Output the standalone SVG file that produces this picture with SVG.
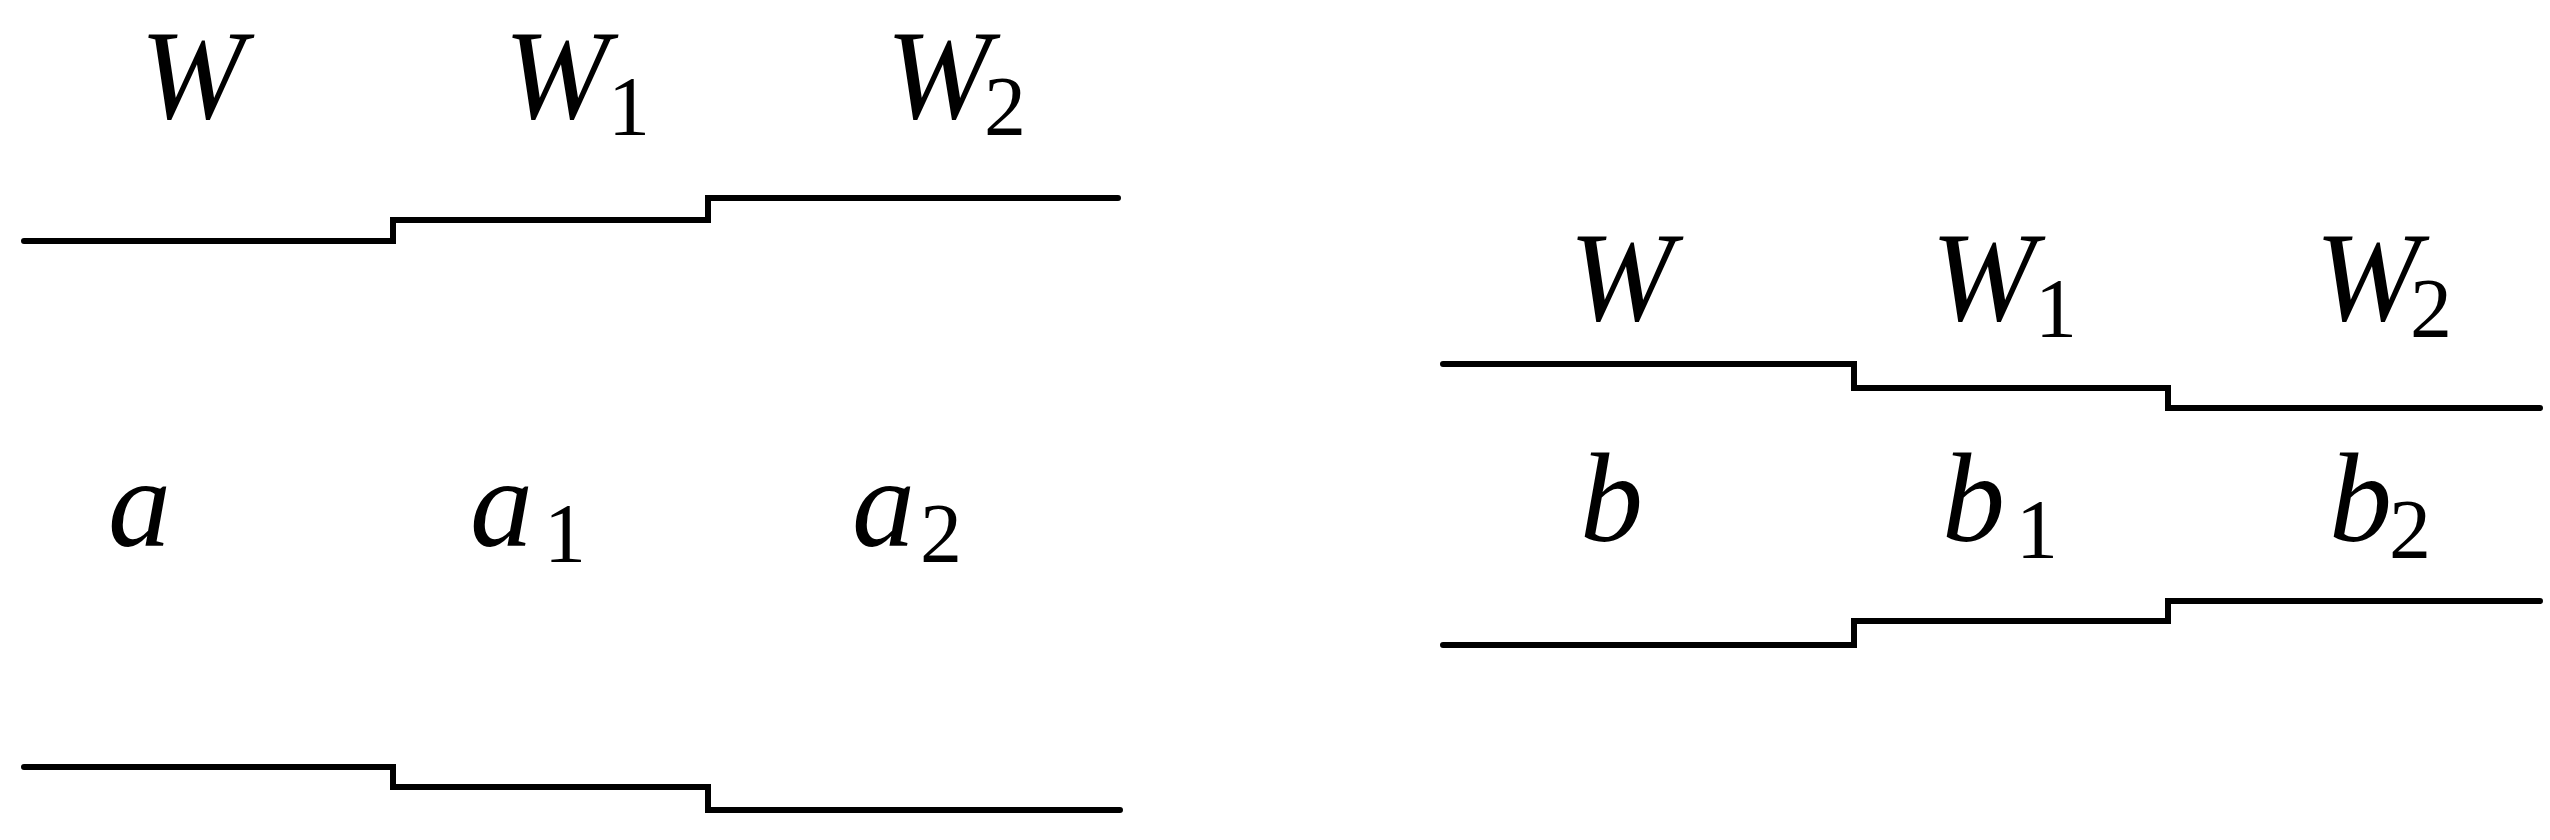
<svg xmlns="http://www.w3.org/2000/svg" width="2550" height="840" viewBox="0 0 2550 840">
<rect width="2550" height="840" fill="#fff"/>
<g id="connectors" fill="none" stroke="#000" stroke-width="6" stroke-linecap="round" stroke-linejoin="miter">
<path d="M24,241 H393 V220 H708 V198 H1118"/>
<path d="M24,767 H393 V787 H708 V810 H1120"/>
<path d="M1443,364 H1854 V388 H2168 V408 H2540"/>
<path d="M1443,645 H1854 V621 H2168 V601 H2540"/>
</g>
<g id="label-W-left"><text x="140" y="118" font-family="Liberation Serif" font-style="italic" font-size="126">W</text></g>
<g id="label-W1-left"><text x="504" y="118" font-family="Liberation Serif" font-style="italic" font-size="126">W</text><text x="608" y="135" font-family="Liberation Serif" font-size="84">1</text></g>
<g id="label-W2-left"><text x="886" y="118" font-family="Liberation Serif" font-style="italic" font-size="126">W</text><text x="984" y="135" font-family="Liberation Serif" font-size="84">2</text></g>
<g id="label-a"><text x="108" y="546" font-family="Liberation Serif" font-style="italic" font-size="126">a</text></g>
<g id="label-a1"><text x="470" y="546" font-family="Liberation Serif" font-style="italic" font-size="126">a</text><text x="544" y="562" font-family="Liberation Serif" font-size="84">1</text></g>
<g id="label-a2"><text x="852" y="546" font-family="Liberation Serif" font-style="italic" font-size="126">a</text><text x="920" y="562" font-family="Liberation Serif" font-size="84">2</text></g>
<g id="label-W-right"><text x="1569" y="320" font-family="Liberation Serif" font-style="italic" font-size="126">W</text></g>
<g id="label-W1-right"><text x="1931" y="320" font-family="Liberation Serif" font-style="italic" font-size="126">W</text><text x="2035" y="337" font-family="Liberation Serif" font-size="84">1</text></g>
<g id="label-W2-right"><text x="2315" y="320" font-family="Liberation Serif" font-style="italic" font-size="126">W</text><text x="2410" y="337" font-family="Liberation Serif" font-size="84">2</text></g>
<g id="label-b"><text x="1580" y="541" font-family="Liberation Serif" font-style="italic" font-size="126">b</text></g>
<g id="label-b1"><text x="1942" y="541" font-family="Liberation Serif" font-style="italic" font-size="126">b</text><text x="2016" y="558" font-family="Liberation Serif" font-size="84">1</text></g>
<g id="label-b2"><text x="2329" y="541" font-family="Liberation Serif" font-style="italic" font-size="126">b</text><text x="2389" y="558" font-family="Liberation Serif" font-size="84">2</text></g>
</svg>
